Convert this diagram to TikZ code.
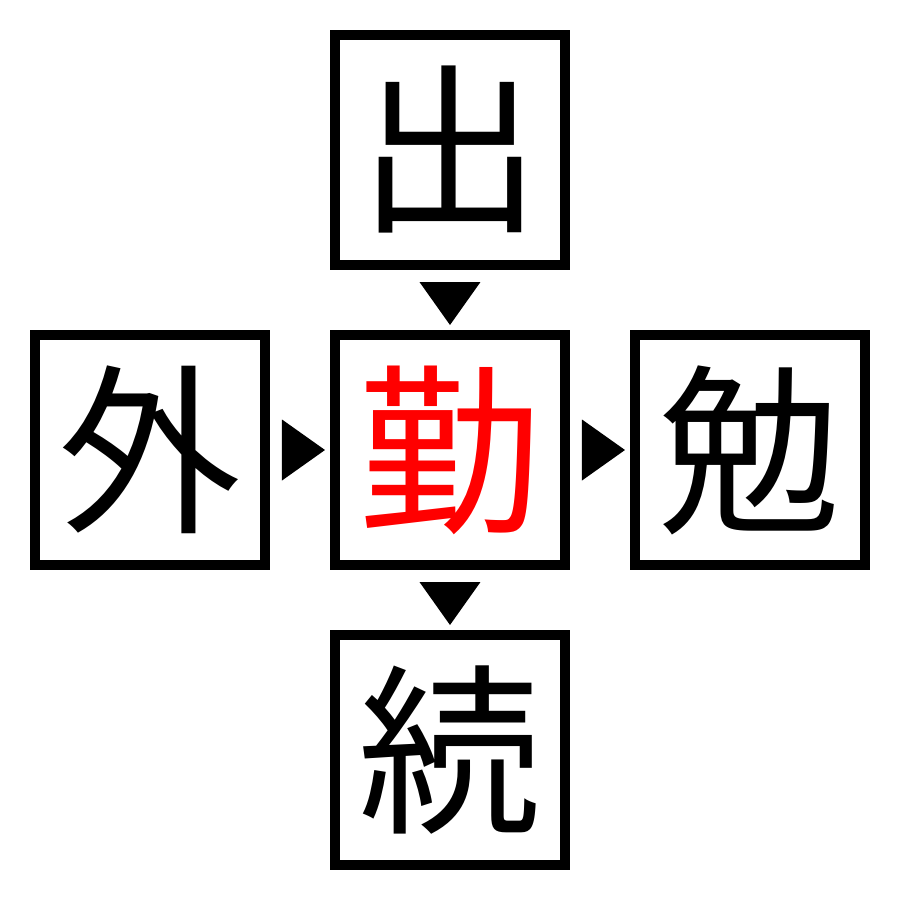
\documentclass[tikz,border=0pt]{standalone}
\usepackage{fontspec}
\newfontfamily\jpfont{Noto Sans CJK JP}
\begin{document}
\begin{tikzpicture}[node distance =3 cm,
main/.style = {draw, line width=1mm, minimum size=2.3cm, inner sep=0pt, font=\jpfont\fontsize{52}{52}\selectfont}]
    \useasboundingbox (-4.5,-4.5) rectangle (4.5,4.5);
    \node[main, text=red] (kin) {勤};
    \node[main] (shutsu) [above of=kin] {出};
    \node[main] (gai) [left of=kin] {外};
    \node[main] (ben) [right of=kin] {勉};
    \node[main] (zoku) [below of=kin] {続};

    % triangles between boxes
    \path (shutsu) -- coordinate[midway] (m1) (kin);
    \path (gai) -- coordinate[midway] (m2) (kin);
    \path (kin) -- coordinate[midway] (m3) (ben);
    \path (kin) -- coordinate[midway] (m4) (zoku);
    \fill[shift={(m1)}, rotate=-90] (-0.18,0.305) -- (0.25,0) -- (-0.18,-0.305) -- cycle;
    \fill[shift={(m2)}] (-0.18,0.305) -- (0.25,0) -- (-0.18,-0.305) -- cycle;
    \fill[shift={(m3)}] (-0.18,0.305) -- (0.25,0) -- (-0.18,-0.305) -- cycle;
    \fill[shift={(m4)}, rotate=-90] (-0.18,0.305) -- (0.25,0) -- (-0.18,-0.305) -- cycle;
\end{tikzpicture}
\end{document}
